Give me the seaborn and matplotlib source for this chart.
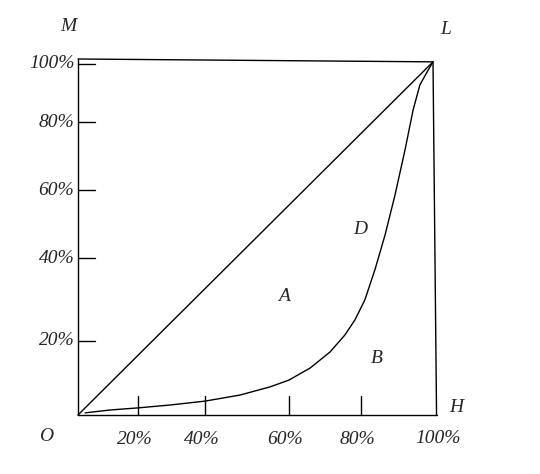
import matplotlib
matplotlib.use('Agg')
import matplotlib.pyplot as plt
import seaborn as sns
import pandas as pd

# Lorenz curve (percent of population vs percent of income)
pop_share = [2.0, 9.0, 16.9, 25.9, 35.8, 45.6, 54.1, 59.4, 65.4, 71.0, 75.2,
             78.0, 80.8, 83.7, 86.5, 89.3, 92.1, 94.4, 96.3, 98.3, 100.0]
income_share = [0.6, 1.4, 2.0, 2.8, 3.9, 5.6, 7.9, 9.8, 13.2, 17.7, 22.5,
                26.7, 32.3, 41.0, 50.6, 61.8, 74.4, 85.7, 92.7, 96.3, 99.2]
x_ticks = [16.9, 35.8, 59.4, 79.7]
x_labels = ['20%', '40%', '60%', '80%']
y_ticks = [98.6, 82.3, 63.2, 44.1, 20.8]
y_labels = ['100%', '80%', '60%', '40%', '20%']

sns.set_style('white')
plt.rcParams['font.family'] = ['Liberation Serif', 'DejaVu Serif']
fig = plt.figure(figsize=(5.4, 4.74), dpi=100)
ax = fig.add_axes([78 / 540, 1 - 415 / 474, 355 / 540, 356 / 474])
ax.set_xlim(0, 100)
ax.set_ylim(0, 100)
ax.axis('off')

df = pd.DataFrame({'x': pop_share, 'y': income_share})
sns.lineplot(data=df, x='x', y='y', sort=False, color='black', lw=1, ax=ax)
kw = dict(color='black', lw=1, clip_on=False)
ax.plot([0, 100], [0, 99.2], **kw)          # equality line
ax.plot([0, 100], [100, 99.2], **kw)        # top
ax.plot([0, 0], [0, 100], **kw)             # left
ax.plot([0, 101], [0, 0], **kw)             # bottom
ax.plot([100, 101], [99.2, 0], **kw)        # right

fs = 14
for t, lab in zip(x_ticks, x_labels):
    ax.plot([t, t], [0, 5.3], **kw)
    ax.text(t - 1, -7, lab, ha='center', va='center', style='italic', fontsize=fs)
ax.text(101.5, -6.5, '100%', ha='center', va='center', style='italic', fontsize=fs)
for t, lab in zip(y_ticks, y_labels):
    ax.plot([0, 4.8], [t, t], **kw)
    ax.text(-1, t, lab, ha='right', va='center', style='italic', fontsize=fs)

for s, x, y in [('M', -2.8, 109), ('L', 103.5, 108.2), ('O', -9, -6), ('H', 106.5, 2),
                ('A', 58, 33.4), ('D', 79.4, 52.2), ('B', 84.2, 16)]:
    ax.text(x, y, s, ha='center', va='center', style='italic', fontsize=fs)

fig.savefig('out.png', dpi=100)
